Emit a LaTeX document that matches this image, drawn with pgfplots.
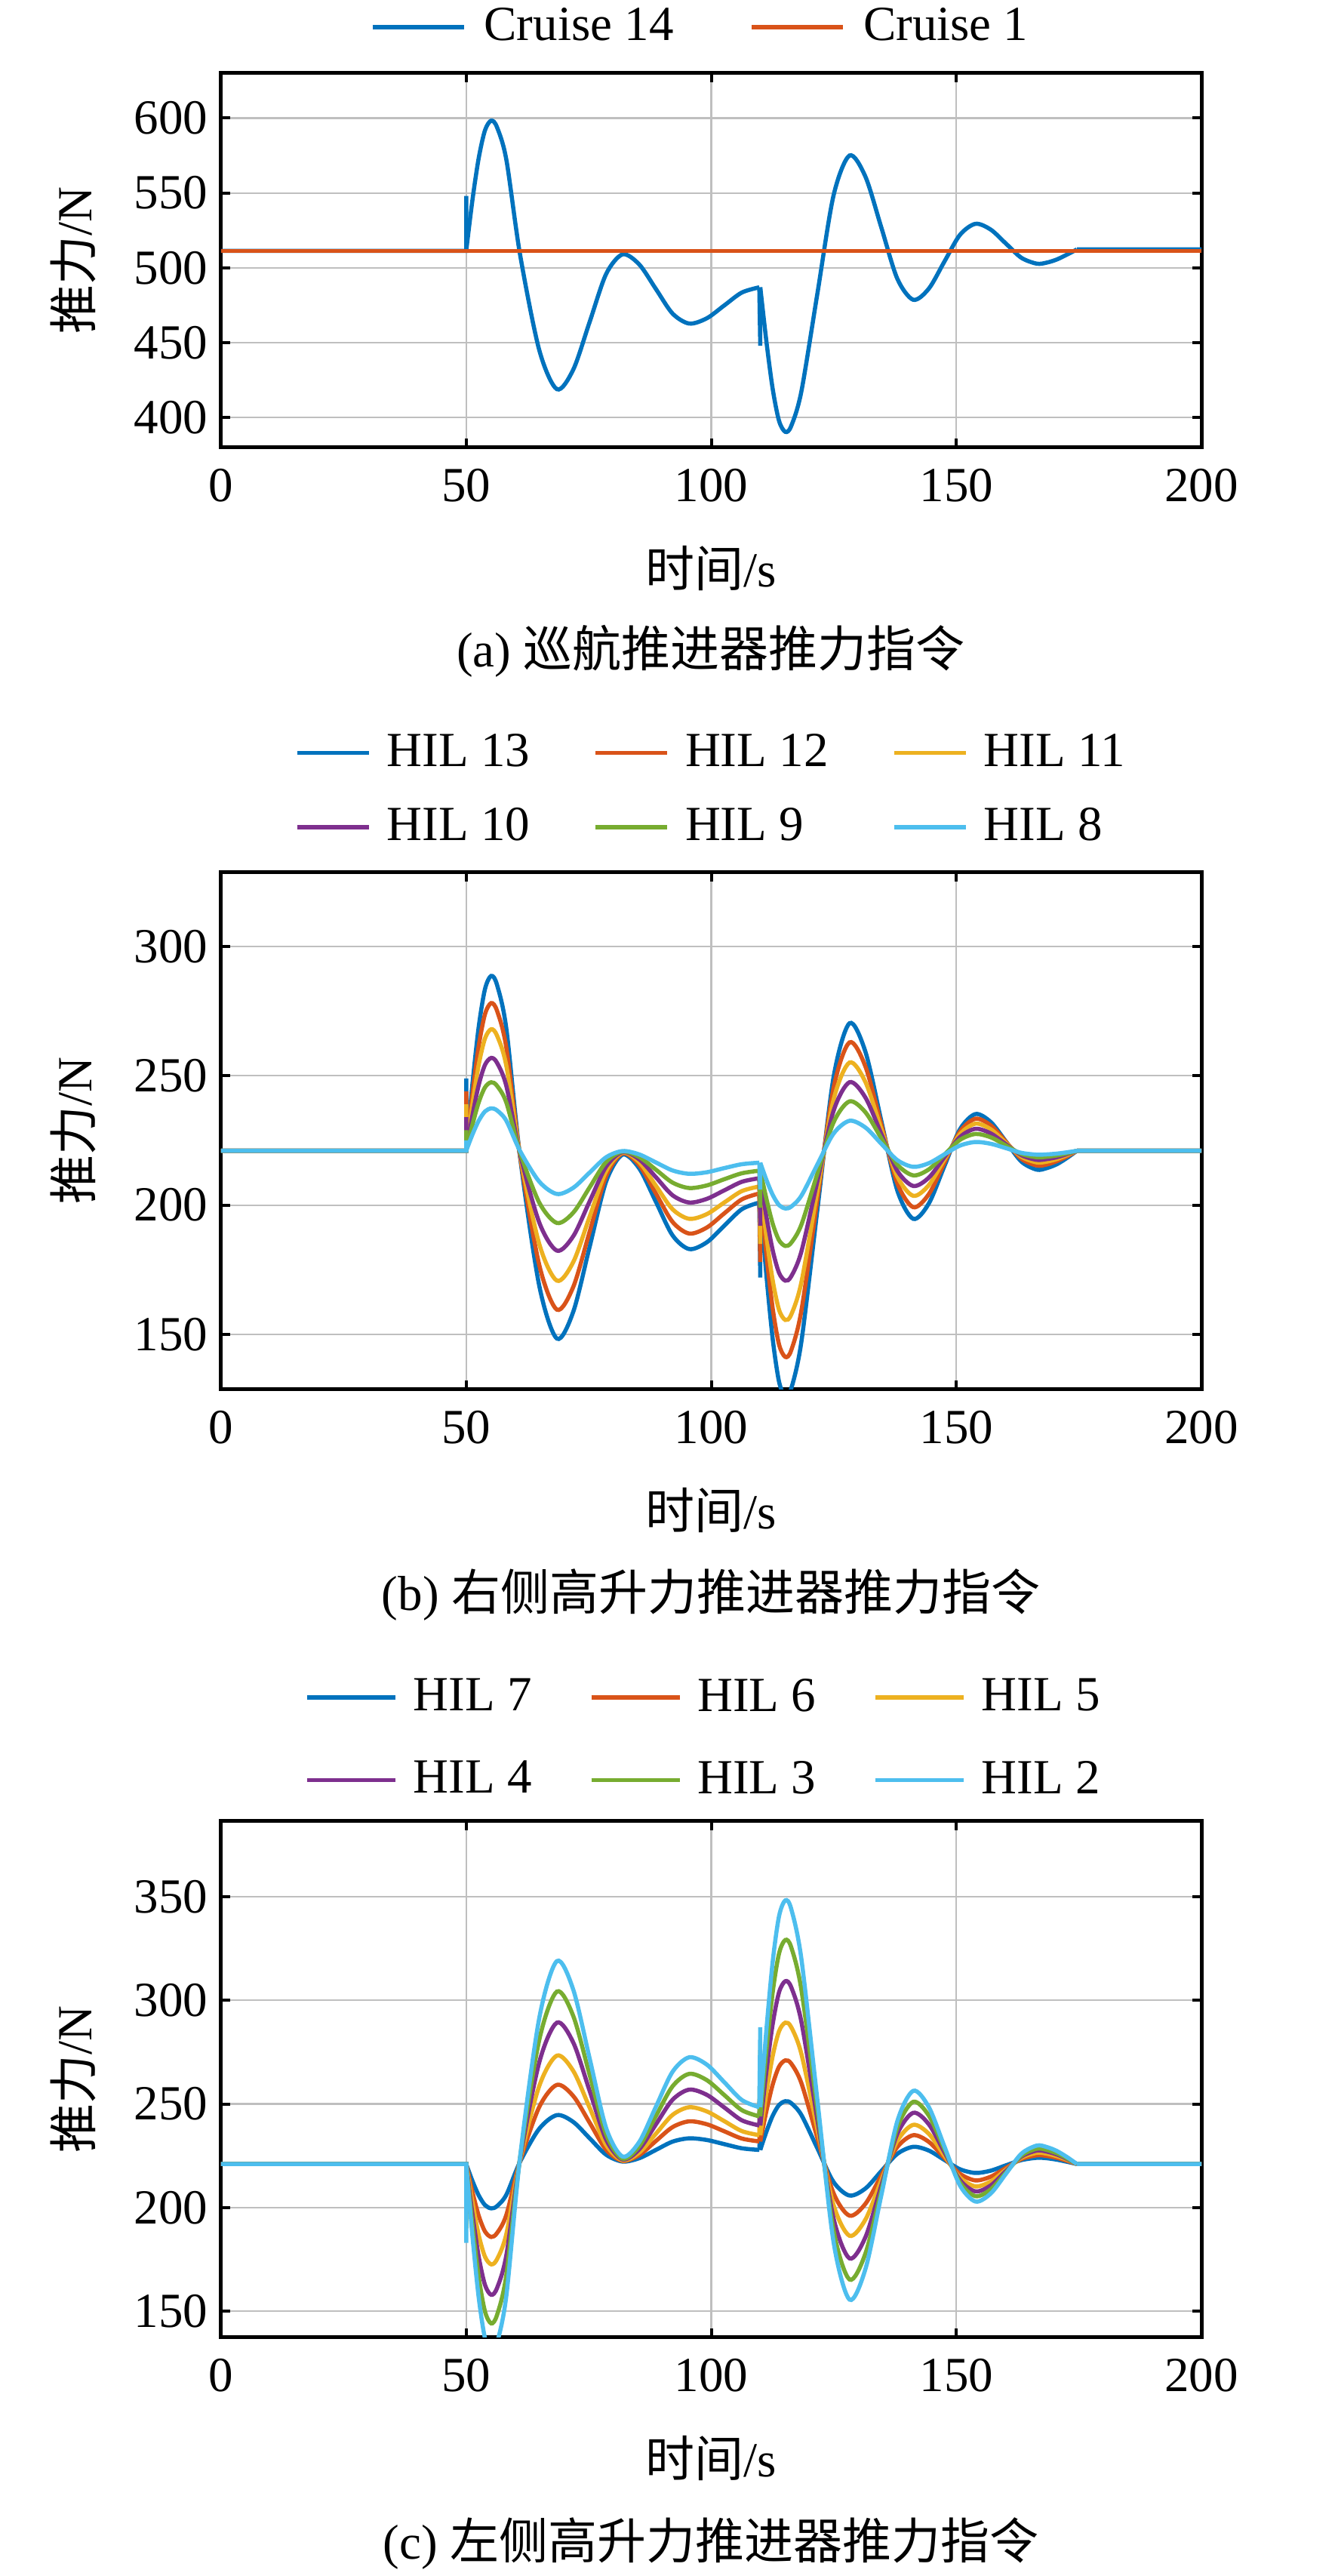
\documentclass[border=0pt]{standalone}
\usepackage{fontspec}
\setmainfont{Liberation Serif}
\newfontfamily\cjk{Noto Sans CJK SC}
\usepackage{pgfplots}
\pgfplotsset{compat=1.18}
\definecolor{c1}{rgb}{0,0.447,0.741}
\definecolor{c2}{rgb}{0.85,0.325,0.098}
\definecolor{c3}{rgb}{0.929,0.694,0.125}
\definecolor{c4}{rgb}{0.494,0.184,0.556}
\definecolor{c5}{rgb}{0.466,0.674,0.188}
\definecolor{c6}{rgb}{0.301,0.745,0.933}
\pgfplotsset{
  myax/.style={scale only axis, width=259.8pt, xmin=0, xmax=200, xtick={0,50,100,150,200},
    grid=major, major grid style={line width=0.45pt, color=black!25},
    axis line style={line width=1pt},
    tick align=inside, tick pos=both, major tick length=2.4pt,
    tick style={line width=0.8pt, black},
    /pgf/number format/assume math mode=true,
    xticklabel style={yshift=-2.2pt},
    xlabel={{\cjk 时间}/s}, ylabel={{\cjk 推力}/N},
    ylabel style={at={(axis description cs:-0.151,0.5)}, anchor=center},
    legend cell align=left,
    unbounded coords=jump,
  },
  pl/.style={line width=1.1pt, smooth},
  plc/.style={line width=1.1pt, forget plot},
}
\begin{document}
\begin{tikzpicture}[font=\fontsize{13pt}{15.6pt}\selectfont]
\useasboundingbox (0,0) rectangle (354.4pt,682.6pt);
% ---------------- (a)
\begin{axis}[myax, at={(58.6pt,564pt)}, anchor=south west, height=99.2pt,
  ymin=380, ymax=630, ytick={400,450,500,550,600},
  xlabel style={at={(axis description cs:0.5,-0.3226)}, anchor=center},
  legend columns=2,
  legend image code/.code={\draw[#1] (0pt,0pt) -- (24.2pt,0pt);},
  legend style={draw=none, fill=none, inner sep=0pt, nodes={inner sep=0pt},
    at={(axis description cs:0.1517,1.123)}, anchor=west,
    /tikz/every odd column/.append style={column sep=4.8pt},
    /tikz/every even column/.append style={column sep=20.2pt}}]
\addplot[pl, c1] coordinates {(50,511.3)(51.28,545.4)(52.55,573.2)(53.83,591.8)(55.1,598.3)(56.3,593.8)(58.2,572.1)(61.0,508.7)(64.9,445.2)(68.5,419)(71.85,432.1)(75.2,464)(78.55,495.9)(81.9,509)(85.3,502.3)(88.7,485.9)(92.1,469.5)(95.5,462.8)(99.08,466.3)(102.65,474.9)(106.23,483.5)(109.8,487)};
\addlegendentry{Cruise 14}
\addplot[pl, c1, forget plot] coordinates {(110,487)(111.28,450)(112.55,418.8)(113.83,397.8)(115.1,390.5)(116.3,394.3)(118.38,417.4)(121.65,482.8)(124.93,548.1)(128.2,575)(131.45,560.9)(134.7,526.9)(137.95,492.8)(141.2,478.7)(144.38,486.1)(147.55,504.1)(150.73,522)(153.9,529.4)(157.03,525.5)(160.15,516.1)(163.28,506.7)(166.4,502.8)(168.45,503.5)(170.5,505.6)(172.55,508.8)(174.6,512.3)};
\addplot[plc, c1] coordinates {(0,511.3)(50,511.3)(50,548)(50,nan)(109.8,487)(110,448)(110,487)(110,nan)(174.6,512.3)(200,512.3)};
\addplot[pl, c2] coordinates {(0,511.3)(200,511.3)};
\addlegendentry{Cruise 1}
\end{axis}
% ---------------- (b)
\begin{axis}[myax, at={(58.6pt,314.4pt)}, anchor=south west, height=137pt,
  ymin=128.7, ymax=328.6, ytick={150,200,250,300},
  xlabel style={at={(axis description cs:0.5,-0.2336)}, anchor=center},
  legend columns=3,
  legend image code/.code={\draw[#1] (0pt,0pt) -- (19pt,0pt);},
  legend style={draw=none, fill=none, inner sep=0pt, nodes={inner sep=0pt}, row sep=9.6pt,
    at={(axis description cs:0.0747,1.1593)}, anchor=west,
    /tikz/every odd column/.append style={column sep=4.2pt},
    /tikz/every even column/.append style={column sep=14.8pt}}]
% HIL 13
\addplot[pl, c1] coordinates {(50,221)(51.28,246.9)(52.55,268.8)(53.83,283.5)(55.1,288.6)(56.3,285.1)(58.2,268.1)(61.0,218.5)(64.9,168.9)(68.5,148.4)(71.85,158.8)(75.2,184)(78.55,209.1)(81.9,219.5)(85.3,214.2)(88.7,201.3)(92.1,188.3)(95.5,183)(99.08,185.6)(102.65,192)(106.23,198.4)(109.8,201)};
\addlegendentry{\makebox[40pt][l]{HIL 13}}
\addplot[pl, c1, forget plot] coordinates {(110,201)(111.28,172.3)(112.55,148)(113.83,131.7)(115.1,126)(116.3,129.0)(118.38,147.1)(121.65,198.2)(124.93,249.2)(128.2,270.3)(131.45,259.3)(134.7,232.5)(137.95,205.7)(141.2,194.7)(144.38,200.6)(147.55,215)(150.73,229.3)(153.9,235.2)(157.03,232.1)(160.15,224.5)(163.28,216.8)(166.4,213.7)(168.45,214.3)(170.5,215.8)(172.55,218.2)(174.6,221)};
\addplot[plc, c1] coordinates {(0,221)(50,221)(50,249)(50,nan)(109.8,201)(110,172)(110,201)(110,nan)(174.6,221)(200,221)};
% HIL 12
\addplot[pl, c2] coordinates {(50,221)(51.28,242.9)(52.55,261.4)(53.83,273.8)(55.1,278.1)(56.3,275.1)(58.2,260.8)(61.0,218.9)(64.9,176.9)(68.5,159.6)(71.85,168.4)(75.2,189.8)(78.55,211.2)(81.9,220)(85.3,215.5)(88.7,204.5)(92.1,193.5)(95.5,189)(99.08,191.3)(102.65,196.8)(106.23,202.2)(109.8,204.5)};
\addlegendentry{\makebox[40pt][l]{HIL 12}}
\addplot[pl, c2, forget plot] coordinates {(110,204.5)(111.28,180.3)(112.55,159.8)(113.83,146.1)(115.1,141.3)(116.3,143.8)(118.38,159.1)(121.65,202.1)(124.93,245.1)(128.2,262.9)(131.45,253.6)(134.7,231.1)(137.95,208.5)(141.2,199.2)(144.38,204.2)(147.55,216.3)(150.73,228.4)(153.9,233.4)(157.03,230.8)(160.15,224.4)(163.28,217.9)(166.4,215.3)(168.45,215.7)(170.5,217)(172.55,218.8)(174.6,221)};
\addplot[plc, c2] coordinates {(0,221)(50,221)(50,244)(50,nan)(109.8,204.5)(110,178)(110,204.5)(110,nan)(174.6,221)(200,221)};
% HIL 11
\addplot[pl, c3] coordinates {(50,221)(51.28,239)(52.55,254.2)(53.83,264.4)(55.1,268)(56.3,265.5)(58.2,253.8)(61.0,219.4)(64.9,185)(68.5,170.8)(71.85,178)(75.2,195.6)(78.55,213.1)(81.9,220.3)(85.3,216.6)(88.7,207.5)(92.1,198.4)(95.5,194.7)(99.08,196.5)(102.65,201)(106.23,205.4)(109.8,207.2)};
\addlegendentry{\makebox[40pt][l]{HIL 11}}
\addplot[pl, c3, forget plot] coordinates {(110,207.2)(111.28,187.4)(112.55,170.7)(113.83,159.5)(115.1,155.6)(116.3,157.6)(118.38,170.1)(121.65,205.4)(124.93,240.6)(128.2,255.1)(131.45,247.6)(134.7,229.4)(137.95,211.1)(141.2,203.6)(144.38,207.7)(147.55,217.6)(150.73,227.4)(153.9,231.5)(157.03,229.3)(160.15,224)(163.28,218.7)(166.4,216.5)(168.45,216.8)(170.5,217.8)(172.55,219.3)(174.6,221)};
\addplot[plc, c3] coordinates {(0,221)(50,221)(50,239)(50,nan)(109.8,207.2)(110,185)(110,207.2)(110,nan)(174.6,221)(200,221)};
% HIL 10
\addplot[pl, c4] coordinates {(50,221)(51.28,234.7)(52.55,246.4)(53.83,254.2)(55.1,256.9)(56.3,255.0)(58.2,246)(61.0,219.7)(64.9,193.3)(68.5,182.4)(71.85,188)(75.2,201.5)(78.55,214.9)(81.9,220.5)(85.3,217.7)(88.7,210.8)(92.1,203.8)(95.5,201)(99.08,202.4)(102.65,205.7)(106.23,209)(109.8,210.4)};
\addlegendentry{\makebox[40pt][l]{HIL 10}}
\addplot[pl, c4, forget plot] coordinates {(110,210.4)(111.28,195.2)(112.55,182.4)(113.83,173.8)(115.1,170.8)(116.3,172.4)(118.38,182)(121.65,209.2)(124.93,236.3)(128.2,247.5)(131.45,241.6)(134.7,227.5)(137.95,213.3)(141.2,207.4)(144.38,210.6)(147.55,218.5)(150.73,226.3)(153.9,229.5)(157.03,227.7)(160.15,223.5)(163.28,219.3)(166.4,217.5)(168.45,217.8)(170.5,218.5)(172.55,219.7)(174.6,221)};
\addplot[plc, c4] coordinates {(0,221)(50,221)(50,234)(50,nan)(109.8,210.4)(110,192)(110,210.4)(110,nan)(174.6,221)(200,221)};
% HIL 9
\addplot[pl, c5] coordinates {(50,221)(51.28,231.1)(52.55,239.7)(53.83,245.5)(55.1,247.5)(56.3,246.1)(58.2,239.6)(61.0,220.3)(64.9,201)(68.5,193.1)(71.85,197.1)(75.2,206.9)(78.55,216.7)(81.9,220.7)(85.3,218.6)(88.7,213.7)(92.1,208.7)(95.5,206.6)(99.08,207.6)(102.65,210)(106.23,212.3)(109.8,213.3)};
\addlegendentry{\makebox[40pt][l]{HIL 9}}
\addplot[pl, c5, forget plot] coordinates {(110,213.3)(111.28,202.2)(112.55,192.7)(113.83,186.4)(115.1,184.2)(116.3,185.4)(118.38,192.4)(121.65,212.2)(124.93,231.9)(128.2,240.1)(131.45,235.9)(134.7,225.8)(137.95,215.7)(141.2,211.5)(144.38,213.8)(147.55,219.5)(150.73,225.2)(153.9,227.5)(157.03,226.2)(160.15,223)(163.28,219.8)(166.4,218.5)(168.45,218.7)(170.5,219.2)(172.55,220)(174.6,221)};
\addplot[plc, c5] coordinates {(0,221)(50,221)(50,229)(50,nan)(109.8,213.3)(110,199)(110,213.3)(110,nan)(174.6,221)(200,221)};
% HIL 8
\addplot[pl, c6] coordinates {(50,221)(51.28,227.3)(52.55,232.6)(53.83,236.2)(55.1,237.4)(56.3,236.6)(58.2,232.6)(61.0,220.9)(64.9,209.1)(68.5,204.3)(71.85,206.7)(75.2,212.6)(78.55,218.5)(81.9,220.9)(85.3,219.6)(88.7,216.5)(92.1,213.4)(95.5,212.1)(99.08,212.7)(102.65,214.3)(106.23,215.8)(109.8,216.4)};
\addlegendentry{\makebox[40pt][l]{HIL 8}}
\addplot[pl, c6, forget plot] coordinates {(110,216.4)(111.28,209.6)(112.55,203.9)(113.83,200)(115.1,198.7)(116.3,199.4)(118.38,203.6)(121.65,215.7)(124.93,227.6)(128.2,232.6)(131.45,230)(134.7,223.7)(137.95,217.4)(141.2,214.8)(144.38,216.2)(147.55,219.6)(150.73,223)(153.9,224.4)(157.03,223.7)(160.15,222)(163.28,220.2)(166.4,219.5)(168.45,219.6)(170.5,219.9)(172.55,220.4)(174.6,221)};
\addplot[plc, c6] coordinates {(0,221)(50,221)(50,225)(50,nan)(109.8,216.4)(110,206)(110,216.4)(110,nan)(174.6,221)(200,221)};
\end{axis}
% ---------------- (c)
\begin{axis}[myax, at={(58.6pt,63.2pt)}, anchor=south west, height=136.8pt,
  ymin=137.3, ymax=386.4, ytick={150,200,250,300,350},
  xlabel style={at={(axis description cs:0.5,-0.2339)}, anchor=center},
  legend columns=3,
  legend image code/.code={\draw[#1] (0pt,0pt) -- (23.4pt,0pt);},
  legend style={draw=none, fill=none, inner sep=0pt, nodes={inner sep=0pt}, row sep=11.7pt,
    at={(axis description cs:0.085,1.1597)}, anchor=west,
    /tikz/every odd column/.append style={column sep=4.2pt},
    /tikz/every even column/.append style={column sep=13.6pt}}]
% HIL 7
\addplot[pl, c1] coordinates {(50,221)(51.28,212.8)(52.55,205.9)(53.83,201.2)(55.1,199.6)(56.3,200.7)(58.2,206.2)(61.0,222.1)(64.9,238)(68.5,244.6)(71.85,241.3)(75.2,233.4)(78.55,225.5)(81.9,222.2)(85.3,223.8)(88.7,227.8)(92.1,231.8)(95.5,233.4)(99.08,232.6)(102.65,230.6)(106.23,228.6)(109.8,227.8)};
\addlegendentry{\makebox[33pt][l]{HIL 7}}
\addplot[pl, c1, forget plot] coordinates {(110,227.8)(111.28,236.8)(112.55,244.4)(113.83,249.5)(115.1,251.3)(116.3,250.4)(118.38,244.7)(121.65,228.6)(124.93,212.4)(128.2,205.8)(131.45,209.2)(134.7,217.6)(137.95,225.9)(141.2,229.3)(144.38,227.5)(147.55,223)(150.73,218.5)(153.9,216.7)(157.03,217.8)(160.15,220.4)(163.28,222.9)(166.4,224)(168.45,223.8)(170.5,223.1)(172.55,222.1)(174.6,221)};
\addplot[plc, c1] coordinates {(0,221)(50,221)(50,215)(50,nan)(109.8,227.8)(110,238)(110,227.8)(110,nan)(174.6,221)(200,221)};
% HIL 6
\addplot[pl, c2] coordinates {(50,221)(51.28,207.5)(52.55,196.1)(53.83,188.5)(55.1,185.8)(56.3,187.7)(58.2,196.5)(61.0,222.5)(64.9,248.5)(68.5,259.2)(71.85,253.8)(75.2,240.9)(78.55,227.9)(81.9,222.5)(85.3,225.3)(88.7,232.1)(92.1,238.8)(95.5,241.6)(99.08,240.2)(102.65,236.8)(106.23,233.3)(109.8,231.9)};
\addlegendentry{\makebox[33pt][l]{HIL 6}}
\addplot[pl, c2, forget plot] coordinates {(110,231.9)(111.28,246.9)(112.55,259.5)(113.83,268)(115.1,271)(116.3,269.5)(118.38,260.1)(121.65,233.6)(124.93,207)(128.2,196.1)(131.45,201.8)(134.7,215.5)(137.95,229.2)(141.2,234.9)(144.38,231.7)(147.55,224)(150.73,216.3)(153.9,213.1)(157.03,214.9)(160.15,219.2)(163.28,223.4)(166.4,225.2)(168.45,224.9)(170.5,224)(172.55,222.6)(174.6,221)};
\addplot[plc, c2] coordinates {(0,221)(50,221)(50,210)(50,nan)(109.8,231.9)(110,246)(110,231.9)(110,nan)(174.6,221)(200,221)};
% HIL 5
\addplot[pl, c3] coordinates {(50,221)(51.28,202.5)(52.55,186.8)(53.83,176.3)(55.1,172.6)(56.3,175.1)(58.2,187.3)(61.0,223)(64.9,258.6)(68.5,273.3)(71.85,265.9)(75.2,248.1)(78.55,230.2)(81.9,222.8)(85.3,226.5)(88.7,235.6)(92.1,244.7)(95.5,248.4)(99.08,246.4)(102.65,241.7)(106.23,236.9)(109.8,234.9)};
\addlegendentry{\makebox[33pt][l]{HIL 5}}
\addplot[pl, c3, forget plot] coordinates {(110,234.9)(111.28,255.7)(112.55,273.3)(113.83,285.1)(115.1,289.2)(116.3,287.1)(118.38,274.2)(121.65,237.8)(124.93,201.4)(128.2,186.4)(131.45,194.2)(134.7,213.2)(137.95,232.1)(141.2,239.9)(144.38,235.6)(147.55,225.1)(150.73,214.5)(153.9,210.2)(157.03,212.6)(160.15,218.3)(163.28,224)(166.4,226.4)(168.45,226)(170.5,224.8)(172.55,223.1)(174.6,221)};
\addplot[plc, c3] coordinates {(0,221)(50,221)(50,204)(50,nan)(109.8,234.9)(110,255)(110,234.9)(110,nan)(174.6,221)(200,221)};
% HIL 4
\addplot[pl, c4] coordinates {(50,221)(51.28,196.8)(52.55,176.4)(53.83,162.7)(55.1,157.9)(56.3,161.2)(58.2,177.1)(61.0,223.6)(64.9,270)(68.5,289.2)(71.85,279.6)(75.2,256.2)(78.55,232.8)(81.9,223.2)(85.3,228.1)(88.7,240.1)(92.1,252)(95.5,256.9)(99.08,254.4)(102.65,248.3)(106.23,242.1)(109.8,239.6)};
\addlegendentry{\makebox[33pt][l]{HIL 4}}
\addplot[pl, c4, forget plot] coordinates {(110,239.6)(111.28,266.3)(112.55,288.8)(113.83,303.9)(115.1,309.2)(116.3,306.4)(118.38,289.7)(121.65,242.4)(124.93,195)(128.2,175.5)(131.45,185.7)(134.7,210.6)(137.95,235.5)(141.2,245.7)(144.38,240.2)(147.55,226.8)(150.73,213.3)(153.9,207.8)(157.03,210.7)(160.15,217.7)(163.28,224.6)(166.4,227.5)(168.45,227)(170.5,225.6)(172.55,223.5)(174.6,221)};
\addplot[plc, c4] coordinates {(0,221)(50,221)(50,197)(50,nan)(109.8,239.6)(110,265)(110,239.6)(110,nan)(174.6,221)(200,221)};
% HIL 3
\addplot[pl, c5] coordinates {(50,221)(51.28,191.5)(52.55,166.6)(53.83,149.9)(55.1,144.1)(56.3,148.2)(58.2,167.5)(61.0,224.2)(64.9,280.8)(68.5,304.2)(71.85,292.4)(75.2,263.9)(78.55,235.4)(81.9,223.6)(85.3,229.6)(88.7,244.1)(92.1,258.5)(95.5,264.5)(99.08,261.5)(102.65,254.3)(106.23,247)(109.8,244)};
\addlegendentry{\makebox[33pt][l]{HIL 3}}
\addplot[pl, c5, forget plot] coordinates {(110,244)(111.28,276.6)(112.55,304.2)(113.83,322.6)(115.1,329.1)(116.3,325.7)(118.38,305.2)(121.65,247.2)(124.93,189.2)(128.2,165.3)(131.45,177.8)(134.7,208.2)(137.95,238.5)(141.2,251)(144.38,244.4)(147.55,228.3)(150.73,212.1)(153.9,205.5)(157.03,208.8)(160.15,217)(163.28,225.1)(166.4,228.4)(168.45,227.8)(170.5,226.2)(172.55,223.8)(174.6,221)};
\addplot[plc, c5] coordinates {(0,221)(50,221)(50,190)(50,nan)(109.8,244)(110,276)(110,244)(110,nan)(174.6,221)(200,221)};
% HIL 2
\addplot[pl, c6] coordinates {(50,221)(51.28,186.1)(52.55,156.7)(53.83,136.9)(55.1,130)(56.3,134.8)(58.2,157.6)(61.0,224.5)(64.9,291.3)(68.5,318.9)(71.85,305.1)(75.2,271.8)(78.55,238.4)(81.9,224.6)(85.3,231.6)(88.7,248.6)(92.1,265.5)(95.5,272.5)(99.08,269)(102.65,260.5)(106.23,251.9)(109.8,248.4)};
\addlegendentry{\makebox[33pt][l]{HIL 2}}
\addplot[pl, c6, forget plot] coordinates {(110,248.4)(111.28,286.6)(112.55,319)(113.83,340.6)(115.1,348.2)(116.3,344.2)(118.38,320.1)(121.65,251.9)(124.93,183.7)(128.2,155.6)(131.45,170.3)(134.7,206)(137.95,241.6)(141.2,256.3)(144.38,248.5)(147.55,229.6)(150.73,210.7)(153.9,202.9)(157.03,206.8)(160.15,216.4)(163.28,226)(166.4,229.9)(168.45,229.2)(170.5,227.3)(172.55,224.4)(174.6,221)};
\addplot[plc, c6] coordinates {(0,221)(50,221)(50,183)(50,nan)(109.8,248.4)(110,287)(110,248.4)(110,nan)(174.6,221)(200,221)};
\end{axis}
% ---------------- captions
\node[font=\fontsize{13pt}{15.6pt}\selectfont] at (188.4pt,510pt) {(a) {\cjk 巡航推进器推力指令}};
\node[font=\fontsize{13pt}{15.6pt}\selectfont] at (188.4pt,260pt) {(b) {\cjk 右侧高升力推进器推力指令}};
\node[font=\fontsize{13pt}{15.6pt}\selectfont] at (188.4pt,8.6pt) {(c) {\cjk 左侧高升力推进器推力指令}};
\end{tikzpicture}
\end{document}
